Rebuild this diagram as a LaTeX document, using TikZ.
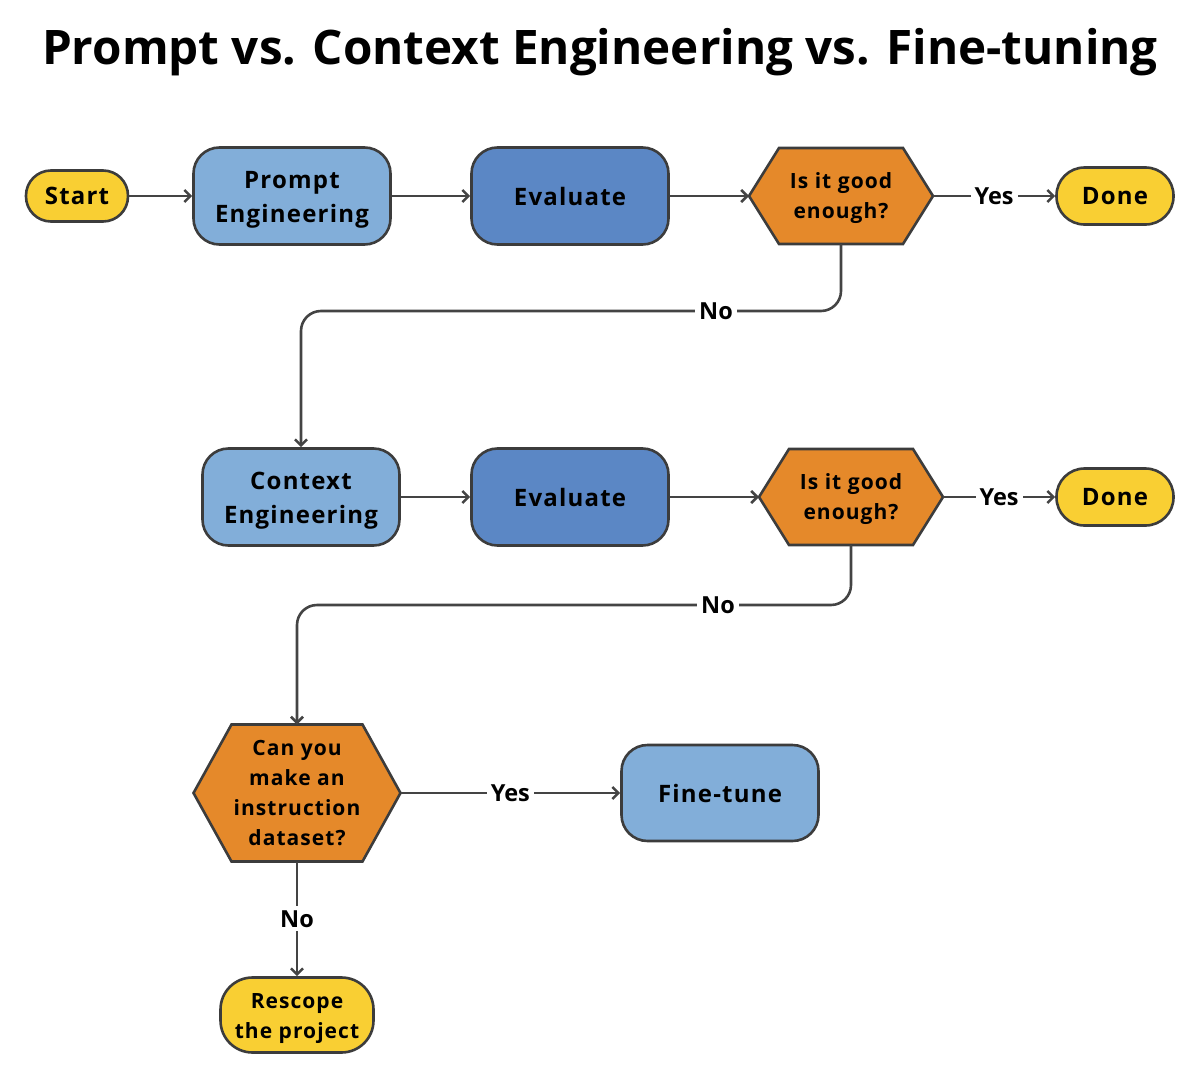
\documentclass[tikz,border=0pt]{standalone}
\usepackage{fontspec}
\setmainfont{Open Sans}
\newfontfamily\spfont{Open Sans}[LetterSpace=5]
\usetikzlibrary{arrows.meta}
\definecolor{cyel}{HTML}{F9CF33}
\definecolor{clb}{HTML}{82AED9}
\definecolor{cdb}{HTML}{5B87C5}
\definecolor{corg}{HTML}{E5892A}
\definecolor{cbord}{HTML}{3C3C3C}
\definecolor{cline}{HTML}{444444}
\newcommand\lowr{\rule{0pt}{24pt}}
\newcommand\hexnode[7]{%
  \draw[hexs] ({#2-#4},#3) -- ({#2-#4+#6},{#3-#5}) -- ({#2+#4-#6},{#3-#5}) -- ({#2+#4},#3) -- ({#2+#4-#6},{#3+#5}) -- ({#2-#4+#6},{#3+#5}) -- cycle;
  \node[hext, minimum width={2*#4}, minimum height={2*#5}] (#1) at (#2,#3) {#7};}
\begin{document}
\begin{tikzpicture}[x=1pt,y=-1pt,
  base/.style={draw=cbord, line width=2.6pt, align=center, inner sep=0pt, text=black},
  blk/.style={base, rounded corners=26pt, minimum width=197pt, minimum height=97pt, font=\spfont\bfseries\fontsize{24}{34}\selectfont},
  term/.style={base, fill=cyel, font=\spfont\bfseries\fontsize{24}{30}\selectfont},
  hexs/.style={draw=cbord, line width=2.6pt, fill=corg},
  hext/.style={inner sep=0pt, outer sep=0pt, align=center, font=\spfont\bfseries\fontsize{21}{30}\selectfont},
  conn/.style={draw=cline, line width=2.6pt, -{Straight Barb[length=6pt,width=12pt]}},
  lbl/.style={fill=white, inner sep=4pt, font=\bfseries\fontsize{23.5}{26}\selectfont}]
\useasboundingbox (0,0) rectangle (1200,1084);
\node[font=\bfseries\fontsize{47.6}{56}\selectfont] (title) at (600,52) {Prompt vs. Context Engineering vs. Fine-tuning};
% row 1
\node[term, minimum width=102pt, minimum height=51pt, rounded corners=25pt] (start) at (77,196) {Start};
\node[blk, fill=clb] (pe) at (292,196) {\lowr Prompt\\Engineering};
\node[blk, fill=cdb] (ev1) at (570,196) {Evaluate};
\hexnode{h1}{841}{196}{92}{48}{30}{\rule{0pt}{20pt}Is it good\\enough?}
\node[term, minimum width=117pt, minimum height=57pt, rounded corners=28pt] (d1) at (1115,196) {Done};
% row 2
\node[blk, fill=clb] (ce) at (301,497) {\lowr Context\\Engineering};
\node[blk, fill=cdb] (ev2) at (570,497) {Evaluate};
\hexnode{h2}{851}{497}{92}{48}{30}{\rule{0pt}{20pt}Is it good\\enough?}
\node[term, minimum width=117pt, minimum height=57pt, rounded corners=28pt] (d2) at (1115,497) {Done};
% row 3
\hexnode{h3}{297}{793}{103.5}{68.5}{38}{Can you\\make an\\instruction\\dataset?}
\node[blk, fill=clb, minimum height=96pt] (ft) at (720,793) {Fine-tune};
\node[term, minimum width=153pt, minimum height=75pt, rounded corners=32pt, font=\spfont\bfseries\fontsize{21}{30}\selectfont] (rs) at (297,1015) {\rule{0pt}{22pt}Rescope\\the project};
% connectors
\draw[conn] (start) -- (pe);
\draw[conn] (pe) -- (ev1);
\draw[conn] (ev1) -- (h1.west);
\draw[conn] (h1.east) -- node[lbl]{Yes} (d1.west);
\draw[conn, rounded corners=20pt] (h1.south) -- (841,311) -- (301,311) -- (ce.north);
\node[lbl] (no1) at (716,311) {No};
\draw[conn] (ce) -- (ev2);
\draw[conn] (ev2) -- (h2.west);
\draw[conn] (h2.east) -- node[lbl]{Yes} (d2.west);
\draw[conn, rounded corners=20pt] (h2.south) -- (851,605) -- (297,605) -- (h3.north);
\node[lbl] (no2) at (718,605) {No};
\draw[conn] (h3.east) -- node[lbl]{Yes} (ft.west);
\draw[conn] (h3.south) -- node[lbl]{No} (rs.north);
\end{tikzpicture}
\end{document}
